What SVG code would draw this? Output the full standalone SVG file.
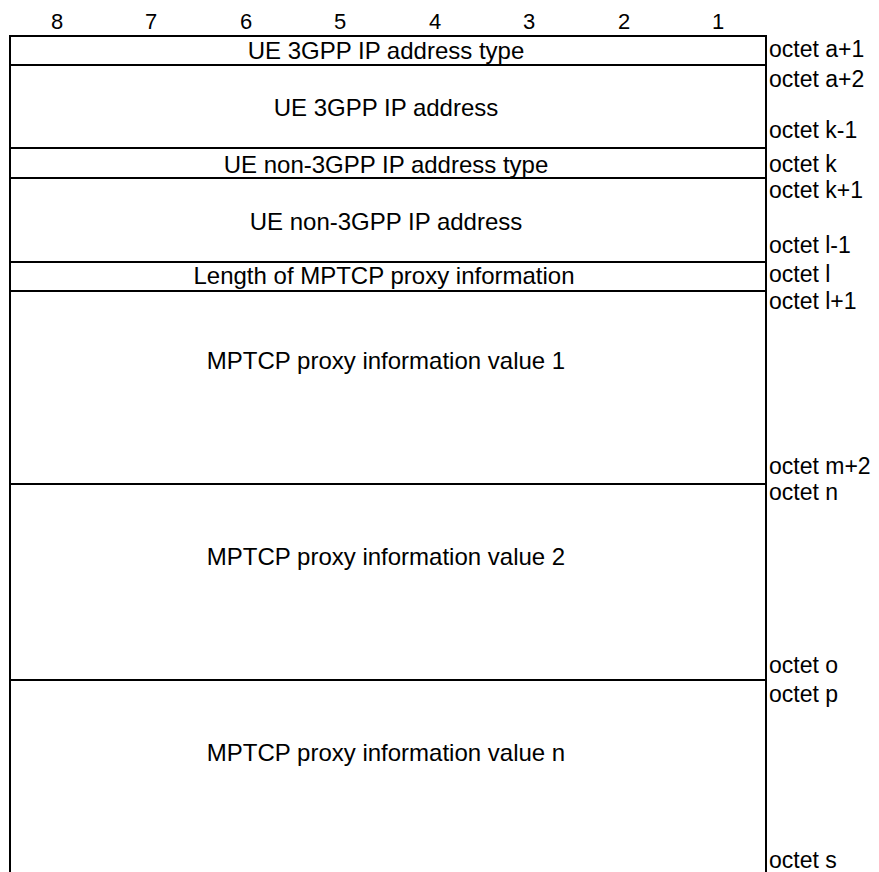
<svg xmlns="http://www.w3.org/2000/svg" width="879" height="872" viewBox="0 0 879 872">
<style>
text{font-family:"Liberation Sans",Arial,sans-serif;font-size:24px;fill:#000}
.c{text-anchor:middle}
.o{font-size:23px}
.b{font-size:22px}
.ln{stroke:#000;stroke-width:2;fill:none}
</style>
<rect x="0" y="0" width="879" height="872" fill="#fff"/>
<g id="bits">
<text class="c b" x="57" y="29">8</text>
<text class="c b" x="151" y="29">7</text>
<text class="c b" x="246" y="29">6</text>
<text class="c b" x="340" y="29">5</text>
<text class="c b" x="435" y="29">4</text>
<text class="c b" x="529" y="29">3</text>
<text class="c b" x="624" y="29">2</text>
<text class="c b" x="718" y="29">1</text>
</g>
<g id="connectors">
<path class="ln" d="M10,872 V36 H766 V872"/>
<path class="ln" d="M10,65 H766 M10,148 H766 M10,178 H766 M10,262 H766 M10,291 H766 M10,484 H766 M10,680 H766"/>
</g>
<g id="f1"><text class="c" x="386" y="59">UE 3GPP IP address type</text></g>
<g id="f2"><text class="c" x="386" y="116">UE 3GPP IP address</text></g>
<g id="f3"><text class="c" x="386" y="173">UE non-3GPP IP address type</text></g>
<g id="f4"><text class="c" x="386" y="230">UE non-3GPP IP address</text></g>
<g id="f5"><text class="c" x="384" y="284">Length of MPTCP proxy information</text></g>
<g id="f6"><text class="c" x="386" y="369">MPTCP proxy information value 1</text></g>
<g id="f7"><text class="c" x="386" y="565">MPTCP proxy information value 2</text></g>
<g id="f8"><text class="c" x="386" y="761">MPTCP proxy information value n</text></g>
<g id="octets">
<text class="o" x="769" y="57">octet a+1</text>
<text class="o" x="769" y="87">octet a+2</text>
<text class="o" x="769" y="138">octet k-1</text>
<text class="o" x="769" y="172">octet k</text>
<text class="o" x="769" y="198">octet k+1</text>
<text class="o" x="769" y="253">octet l-1</text>
<text class="o" x="769" y="282">octet l</text>
<text class="o" x="769" y="309">octet l+1</text>
<text class="o" x="769" y="474">octet m+2</text>
<text class="o" x="769" y="500">octet n</text>
<text class="o" x="769" y="673">octet o</text>
<text class="o" x="769" y="702">octet p</text>
<text class="o" x="769" y="868">octet s</text>
</g>
</svg>
